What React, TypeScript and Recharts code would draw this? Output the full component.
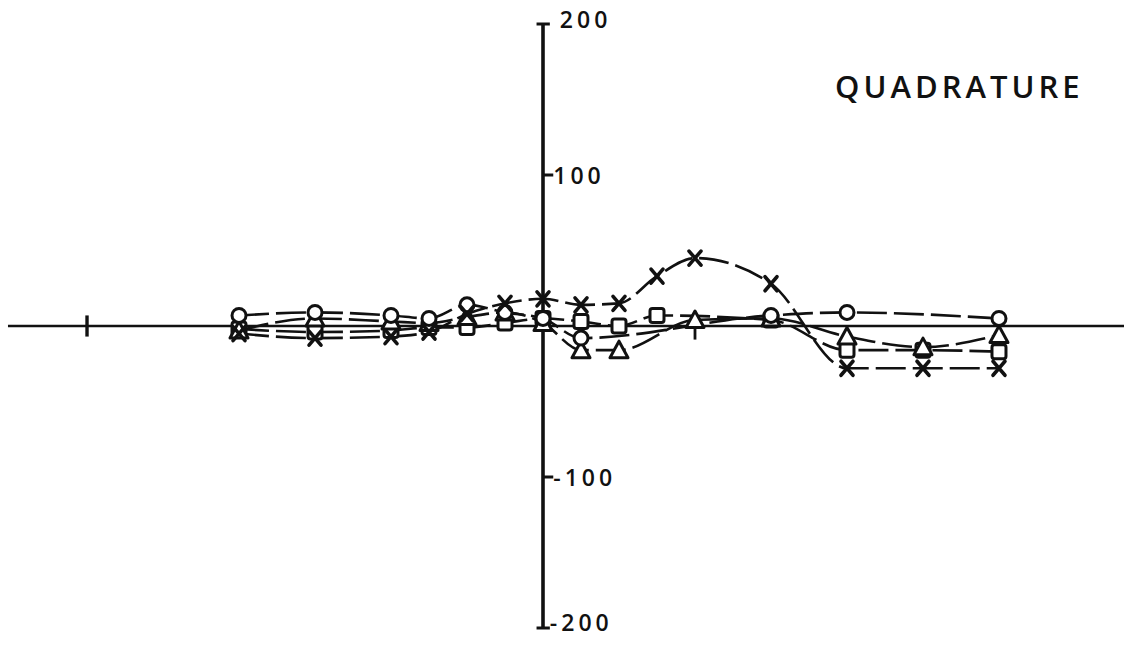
import React from 'react';
import { LineChart, Line, XAxis, YAxis, ReferenceLine } from 'recharts';

// positions along the horizontal axis (one unit = one grid step of the original plot)
const xPositions = [-8, -6, -4, -3, -2, -1, 0, 1, 2, 3, 4, 6, 8, 10, 12];

// null = point not drawn
const circleVals = [7, 9, 7, 5, 14, 9, 5, -8, null, null, null, 7, 9, null, 5];
const triangleVals = [-3, 5, 3, 2, 6, 9, 2, -16, -16, null, 4, 5, -7, -14, -6];
const squareVals = [-2, -4, -3, -1, -1, 2, 5, 3, 0, 7, null, 4, -16, -16, -17];
const crossVals = [-5, -8, -7, -4, 8, 15, 18, 14, 15, 33, 45, 28, -28, -28, -28];

const yTickLabels = [200, 100, -100, -200];

const data = xPositions.map((x, i) => ({
  x,
  o: circleVals[i],
  t: triangleVals[i],
  s: squareVals[i],
  k: crossVals[i],
}));

const INK = '#111';
const FONT = '"Open Sans", "DejaVu Sans", sans-serif';

const CircleDot = (p: any) => {
  if (p.cx == null || p.cy == null || p.value == null) return <g key={`o${p.index}`} />;
  return <circle key={`o${p.index}`} cx={p.cx} cy={p.cy} r={7} fill="#fff" stroke={INK} strokeWidth={3} />;
};

const TriangleDot = (p: any) => {
  if (p.cx == null || p.cy == null || p.value == null) return <g key={`t${p.index}`} />;
  const { cx, cy } = p;
  return (
    <path
      key={`t${p.index}`}
      d={`M${cx},${cy - 9} L${cx + 9},${cy + 7.5} L${cx - 9},${cy + 7.5} Z`}
      fill="#fff"
      stroke={INK}
      strokeWidth={3}
      strokeLinejoin="round"
    />
  );
};

const SquareDot = (p: any) => {
  if (p.cx == null || p.cy == null || p.value == null) return <g key={`s${p.index}`} />;
  return (
    <rect key={`s${p.index}`} x={p.cx - 7} y={p.cy - 7} width={14} height={14} rx={2.5} fill="#fff" stroke={INK} strokeWidth={3} />
  );
};

const CrossDot = (p: any) => {
  if (p.cx == null || p.cy == null || p.value == null) return <g key={`k${p.index}`} />;
  const { cx, cy } = p;
  return (
    <path
      key={`k${p.index}`}
      d={`M${cx - 6},${cy - 7} L${cx + 6},${cy + 7} M${cx + 6},${cy - 7} L${cx - 6},${cy + 7}`}
      stroke={INK}
      strokeWidth={3.6}
      strokeLinecap="round"
    />
  );
};

const tickLabel = (value: number, dy: number, dx: number) => (props: any) => {
  const vb = props.viewBox || {};
  return (
    <text
      x={(vb.x || 0) + (vb.width || 0) + dx}
      y={(vb.y || 0) + dy}
      fill={INK}
      fontFamily={FONT}
      fontSize={23}
      fontWeight={600}
      letterSpacing={4}
      dominantBaseline="central"
    >
      {value}
    </text>
  );
};

const lineProps = {
  stroke: INK,
  strokeWidth: 2.6,
  strokeDasharray: '30 7',
  type: 'monotone' as const,
  isAnimationActive: false,
  connectNulls: true,
  activeDot: false as const,
};

export default function App() {
  return (
    <div style={{ position: 'absolute', left: 0, top: 0, width: 1124, height: 646, background: '#fff' }}>
      <LineChart width={1124} height={646} data={data} margin={{ top: 24, right: 0, bottom: 18, left: 0 }}>
        <XAxis type="number" dataKey="x" domain={[-14.29, 15.29]} hide />
        <YAxis type="number" domain={[-200, 200]} hide />

        <ReferenceLine segment={[{ x: -14.08, y: 0 }, { x: 15.29, y: 0 }]} stroke={INK} strokeWidth={2.6} />
        <ReferenceLine segment={[{ x: 0, y: -200 }, { x: 0, y: 200 }]} stroke={INK} strokeWidth={3.6} />
        <ReferenceLine segment={[{ x: -12, y: -7 }, { x: -12, y: 7 }]} stroke={INK} strokeWidth={3.4} />
        <ReferenceLine segment={[{ x: 4, y: -1 }, { x: 4, y: -9 }]} stroke={INK} strokeWidth={2.8} />

        <ReferenceLine
          segment={[{ x: -0.17, y: yTickLabels[0] }, { x: 0.18, y: yTickLabels[0] }]}
          stroke={INK}
          strokeWidth={3}
          label={tickLabel(yTickLabels[0], -5, 10)}
        />
        <ReferenceLine
          segment={[{ x: 0, y: yTickLabels[1] }, { x: 0.27, y: yTickLabels[1] }]}
          stroke={INK}
          strokeWidth={3}
          label={tickLabel(yTickLabels[1], 0, 0)}
        />
        <ReferenceLine
          segment={[{ x: 0, y: yTickLabels[2] }, { x: 0.27, y: yTickLabels[2] }]}
          stroke={INK}
          strokeWidth={3}
          label={tickLabel(yTickLabels[2], 0, 0)}
        />
        <ReferenceLine
          segment={[{ x: -0.17, y: yTickLabels[3] }, { x: 0.18, y: yTickLabels[3] }]}
          stroke={INK}
          strokeWidth={3}
          label={tickLabel(yTickLabels[3], -6, 0)}
        />

        <Line dataKey="s" {...lineProps} dot={SquareDot} />
        <Line dataKey="t" {...lineProps} dot={TriangleDot} />
        <Line dataKey="o" {...lineProps} dot={CircleDot} />
        <Line dataKey="k" {...lineProps} dot={CrossDot} />
      </LineChart>
      <div
        style={{
          position: 'absolute',
          left: 835,
          top: 65,
          fontFamily: FONT,
          fontSize: 31,
          fontWeight: 600,
          color: INK,
          letterSpacing: 4,
          whiteSpace: 'nowrap',
        }}
      >
        QUADRATURE
      </div>
    </div>
  );
}
